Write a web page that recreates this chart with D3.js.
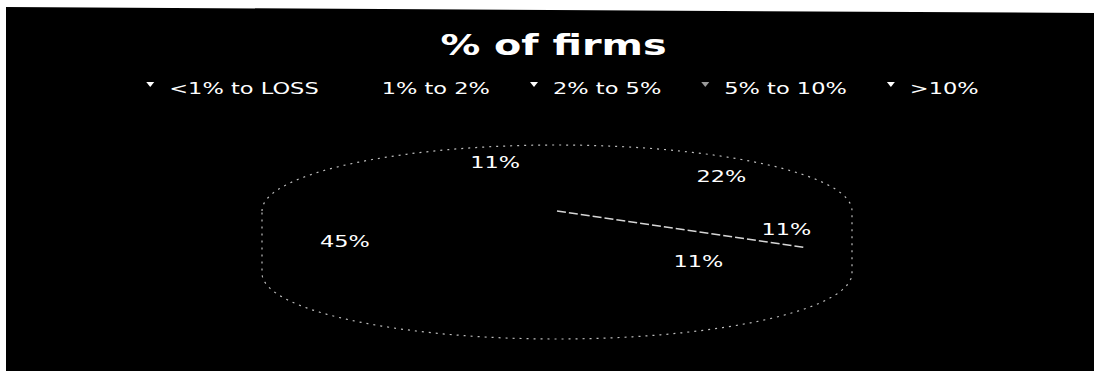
<!DOCTYPE html>
<html><head><meta charset="utf-8">
<script src="https://cdn.jsdelivr.net/npm/d3@7"></script>
<style>html,body{margin:0;padding:0;background:#fff;overflow:hidden}svg{display:block}</style>
</head><body>
<svg id="c" width="1094" height="371"></svg>
<script>
// ---- data ----
const titleText = "% of firms";
const categories = ["<1% to LOSS", "1% to 2%", "2% to 5%", "5% to 10%", ">10%"];
const values = [45, 11, 22, 11, 11];
const valueLabels = ["45%", "11%", "22%", "11%", "11%"];

// ---- styles ----
const legendMarkerColors = ["#ffffff", "#000000", "#ffffff", "#9a9a9a", "#ffffff"];
const sliceStartEdgeColors = [null, null, null, null, "#d6d6d6"];
const font = "DejaVu Sans, Verdana, sans-serif";

const W = 1094, H = 371;
const svg = d3.select("#c");

// chart area (scanned, slightly slanted top edge)
svg.append("path")
  .attr("d", `M6,7 L${W},13 L${W},${H} L6,${H} Z`)
  .attr("fill", "#000");

function stretchText(sel, stretch, anchorX, anchor) {
  sel.each(function () {
    const t = d3.select(this);
    const w = this.getComputedTextLength() * stretch;
    t.attr("textLength", w).attr("lengthAdjust", "spacingAndGlyphs");
    if (anchor === "middle") t.attr("x", anchorX - w / 2);
    else t.attr("x", anchorX);
  });
}

// ---- title ----
const title = svg.append("text")
  .attr("y", 55)
  .attr("fill", "#fff")
  .attr("font-family", font)
  .attr("font-weight", "bold")
  .attr("font-size", 29)
  .text(titleText);
stretchText(title, 1.37, 553.5, "middle");

// ---- legend ----
const legendStretch = 1.5, markerToText = 19, textToMarker = 44;
const lg = svg.append("g");
const legendTexts = categories.map(c => {
  const t = lg.append("text")
    .attr("y", 94)
    .attr("fill", "#fff")
    .attr("font-family", font)
    .attr("font-size", 15)
    .text(c);
  const w = t.node().getComputedTextLength() * legendStretch;
  t.attr("textLength", w).attr("lengthAdjust", "spacingAndGlyphs");
  return { t, w };
});
const totalLegend = 4 + legendTexts.reduce((s, d) => s + markerToText + d.w, 0) + textToMarker * (categories.length - 1);
let mx = 562.5 - totalLegend / 2 + 4;
legendTexts.forEach((d, i) => {
  lg.append("path")
    .attr("d", `M${mx - 4},82 L${mx + 4},82 L${mx},87 Z`)
    .attr("fill", legendMarkerColors[i]);
  d.t.attr("x", mx + markerToText);
  mx += markerToText + d.w + textToMarker;
});

// ---- 3D pie ----
const cx = 557, cy = 211, rx = 295, ry = 66, depth = 62;
const startAngle = 163 * Math.PI / 180;
const xS = d3.scaleLinear().domain([-1, 1]).range([cx - rx, cx + rx]);
const yS = d3.scaleLinear().domain([-1, 1]).range([cy - ry, cy + ry]);
const pt = (a, r, dz) => [xS(r * Math.sin(a)), yS(-r * Math.cos(a)) + (dz || 0)];
const samples = (a0, a1, r, dz) => {
  const n = Math.max(2, Math.ceil(Math.abs(a1 - a0) / 0.02));
  return d3.range(n + 1).map(i => pt(a0 + (a1 - a0) * i / n, r, dz));
};
const line = d3.line();

const pie = d3.pie().sort(null).value(d => d)
  .startAngle(startAngle).endAngle(startAngle + 2 * Math.PI);
const arcs = pie(values);

const gPie = svg.append("g");
// front side wall
const wallTop = samples(Math.PI / 2, 3 * Math.PI / 2, 1, 0);
const wallBot = samples(3 * Math.PI / 2, Math.PI / 2, 1, depth);
gPie.append("path")
  .attr("d", line(wallTop.concat(wallBot)) + "Z")
  .attr("fill", "#000");

// top faces
gPie.selectAll("path.slice").data(arcs).enter().append("path")
  .attr("class", "slice")
  .attr("d", d => line([[cx, cy]].concat(samples(d.startAngle, d.endAngle, 1, 0))) + "Z")
  .attr("fill", "#000");

// silhouette (faint, scanned dotted outline): back top arc, then front bottom arc
const outline = samples(3 * Math.PI / 2, 5 * Math.PI / 2, 1, 0)
  .concat(samples(Math.PI / 2, 3 * Math.PI / 2, 1, depth));
gPie.append("path")
  .attr("d", line(outline) + "Z")
  .attr("fill", "none")
  .attr("stroke", "#bdbdbd")
  .attr("stroke-width", 1.2)
  .attr("stroke-dasharray", "2,5");

// visible slice edges
arcs.forEach((d, i) => {
  if (!sliceStartEdgeColors[i]) return;
  gPie.append("path")
    .attr("d", line([[cx, cy], pt(d.startAngle, 1, 0)]))
    .attr("stroke", sliceStartEdgeColors[i])
    .attr("stroke-width", 1.5)
    .attr("stroke-dasharray", "9,3")
    .attr("fill", "none");
});

// data labels
const labelKx = 0.8, labelKy = 0.85, labelDy = 5;
arcs.forEach((d, i) => {
  const a = (d.startAngle + d.endAngle) / 2;
  const x = xS(labelKx * Math.sin(a));
  const y = yS(-labelKy * Math.cos(a)) + labelDy;
  const t = svg.append("text")
    .attr("y", y + 6)
    .attr("fill", "#fff")
    .attr("font-family", font)
    .attr("font-size", 16)
    .text(valueLabels[i]);
  stretchText(t, 1.4, x, "middle");
});
</script>
</body></html>
